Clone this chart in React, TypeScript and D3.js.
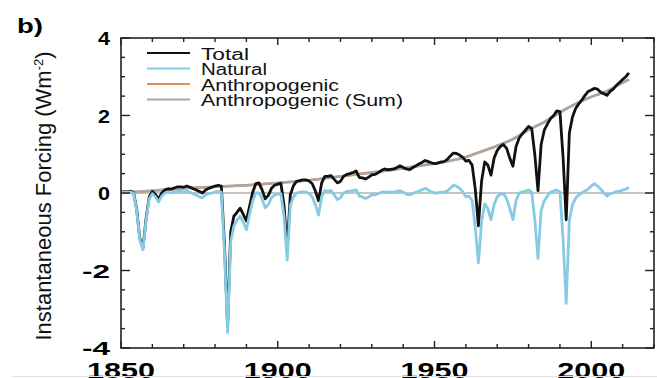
import React from "react";
import * as d3 from "d3";

// annual series, 1850..2012 (W m-2)
const firstYear = 1850;

const natural = [
  0.02, 0.03, 0.02, 0.03, 0.0, -0.45, -1.2, -1.47, -0.7, -0.15,
  -0.02, -0.1, -0.23, -0.08, 0.0, 0.02, 0.0, 0.03, 0.05, 0.05,
  0.03, 0.05, 0.02, -0.02, -0.05, -0.1, -0.12, -0.05, -0.02, 0.0,
  0.02, 0.04, 0.02, -1.5, -3.6, -1.25, -0.85, -0.7, -0.6, -0.75,
  -0.95, -0.55, -0.2, 0.0, 0.0, -0.15, -0.38, -0.3, -0.12, -0.05,
  -0.03, -0.02, -0.6, -1.73, -0.32, -0.1, 0.0, 0.02, 0.03, 0.03,
  -0.02, -0.1, -0.3, -0.57, -0.1, 0.06, 0.05, 0.06, -0.05, -0.17,
  -0.12, 0.0, 0.04, 0.04, 0.06, 0.08, -0.08, -0.1, -0.14, -0.1,
  -0.05, -0.05, -0.02, 0.02, 0.03, 0.02, 0.02, 0.02, 0.04, 0.06,
  0.02, -0.03, -0.05, -0.02, 0.02, 0.05, 0.08, 0.12, 0.08, 0.03,
  0.0, 0.0, 0.02, 0.02, 0.05, 0.12, 0.2, 0.18, 0.12, 0.03,
  -0.1, -0.08, -0.2, -0.9, -1.8, -0.75, -0.28, -0.4, -0.69, -0.3,
  -0.1, -0.03, -0.02, -0.15, -0.4, -0.69, -0.2, 0.0, 0.03, 0.05,
  0.08, 0.02, -0.7, -1.69, -0.45, -0.2, -0.08, 0.02, 0.05, 0.08,
  0.03, -1.2, -2.85, -0.7, -0.3, -0.13, -0.05, 0.0, 0.05, 0.1,
  0.18, 0.24, 0.18, 0.1, 0.0, -0.08, -0.02, 0.0, 0.04, 0.04,
  0.08, 0.1, 0.14,
];

const total = [
  0.02, 0.04, 0.03, 0.05, 0.02, -0.42, -1.17, -1.42, -0.66, -0.1,
  0.04, -0.04, -0.16, 0.0, 0.08, 0.11, 0.1, 0.13, 0.16, 0.16,
  0.15, 0.18, 0.15, 0.11, 0.08, 0.04, 0.0, 0.08, 0.12, 0.15,
  0.18, 0.2, 0.18, -1.33, -3.43, -1.0, -0.6, -0.5, -0.39, -0.55,
  -0.72, -0.34, 0.02, 0.24, 0.26, 0.08, -0.15, -0.06, 0.12, 0.2,
  0.23, 0.25, -0.33, -1.45, -0.05, 0.19, 0.3, 0.32, 0.34, 0.34,
  0.31, 0.24, 0.05, -0.2, 0.26, 0.43, 0.43, 0.45, 0.35, 0.26,
  0.3, 0.43, 0.48, 0.5, 0.53, 0.57, 0.4, 0.39, 0.36, 0.41,
  0.47, 0.48, 0.52, 0.58, 0.62, 0.6, 0.61, 0.62, 0.66, 0.7,
  0.66, 0.62, 0.6, 0.65, 0.7, 0.75, 0.79, 0.84, 0.81, 0.78,
  0.76, 0.77, 0.8, 0.81, 0.86, 0.95, 1.03, 1.02, 0.98, 0.92,
  0.82, 0.84, 0.72, 0.1, -0.85, 0.3, 0.8, 0.72, 0.46, 0.9,
  1.1, 1.2, 1.25, 1.15, 0.9, 0.69, 1.2, 1.42, 1.53, 1.62,
  1.72, 1.66, 0.98, 0.06, 1.25, 1.62, 1.78, 1.92, 2.0, 2.12,
  2.1, 0.92, -0.69, 1.55, 1.96, 2.18, 2.3, 2.4, 2.52, 2.62,
  2.66, 2.7, 2.68, 2.6, 2.56, 2.52, 2.62, 2.68, 2.78, 2.85,
  2.93, 3.0, 3.1,
];

// anthropogenic, read every 5 years
const anthroYears = [
  1850, 1855, 1860, 1865, 1870, 1875, 1880, 1885, 1890, 1895, 1900, 1905,
  1910, 1915, 1920, 1925, 1930, 1935, 1940, 1945, 1950, 1955, 1960, 1965,
  1970, 1975, 1980, 1985, 1990, 1995, 2000, 2005, 2010, 2012,
];
const anthro = [
  0.0, 0.03, 0.06, 0.09, 0.12, 0.14, 0.16, 0.18, 0.2, 0.23, 0.26, 0.29,
  0.33, 0.38, 0.43, 0.48, 0.53, 0.58, 0.64, 0.7, 0.76, 0.83, 0.93, 1.07,
  1.22, 1.39, 1.63, 1.83, 2.08, 2.3, 2.48, 2.63, 2.85, 2.93,
];

const xMajor = [1850, 1900, 1950, 2000];
const yMajor = [-4, -2, 0, 2, 4];

const legendItems = [
  { label: "Total", color: "#111", len: 48 },
  { label: "Natural", color: "#86cbe4", len: 66 },
  { label: "Anthropogenic", color: "#e08a5e", len: 138 },
  { label: "Anthropogenic (Sum)", color: "#aaa6a2", len: 202 },
];

const W = 657;
const H = 378;
const font = "'Liberation Sans', Arial, Helvetica, sans-serif";

export default function App() {
  const left = 121, right = 654, top = 38, bottom = 348;
  const x = d3.scaleLinear().domain([1850, 2020]).range([left, right]);
  const y = d3.scaleLinear().domain([-4, 4]).range([bottom, top]);

  const line = d3
    .line<number>()
    .x((_, i) => x(firstYear + i))
    .y((d) => y(d));

  const anthroLine = d3
    .line<number>()
    .x((_, i) => x(anthroYears[i]))
    .y((d) => y(d))
    .curve(d3.curveMonotoneX);

  const xMinor = d3.range(1850, 2021, 10);
  const yMinor = d3.range(-4, 4.01, 0.5);

  return (
    <svg
      width={W}
      height={H}
      style={{ position: "absolute", left: 0, top: 0, background: "#fff" }}
    >
      <rect x={0} y={0} width={W} height={H} fill="#fff" />

      <text x={17} y={33} fontFamily={font} fontWeight="bold" fontSize={20}
        textLength={26} lengthAdjust="spacingAndGlyphs">b)</text>

      {/* zero line */}
      <line x1={left} x2={right} y1={y(0)} y2={y(0)} stroke="#c4c4c4" strokeWidth={2} />

      <path d={anthroLine(anthro) || ""} fill="none" stroke="#e08a5e" strokeWidth={2.6} />
      <path d={anthroLine(anthro) || ""} fill="none" stroke="#aaa6a2" strokeWidth={2.4} />
      <path d={line(total) || ""} fill="none" stroke="#111" strokeWidth={2.8} strokeLinejoin="round" />
      <path d={line(natural) || ""} fill="none" stroke="#86cbe4" strokeWidth={2.8} strokeLinejoin="round" />

      {/* ticks */}
      {xMinor.map((t) => {
        const len = xMajor.includes(t) ? 7 : 4;
        return (
          <g key={"xt" + t} stroke="#222" strokeWidth={1.4}>
            <line x1={x(t)} x2={x(t)} y1={bottom} y2={bottom - len} />
            <line x1={x(t)} x2={x(t)} y1={top} y2={top + len} />
          </g>
        );
      })}
      {yMinor.map((t) => {
        const len = yMajor.includes(t) ? 9 : 4;
        return (
          <g key={"yt" + t} stroke="#222" strokeWidth={1.4}>
            <line x1={left} x2={left + len} y1={y(t)} y2={y(t)} />
            <line x1={right} x2={right - len} y1={y(t)} y2={y(t)} />
          </g>
        );
      })}
      <rect x={left} y={top} width={right - left} height={bottom - top}
        fill="none" stroke="#222" strokeWidth={1.6} />

      {/* tick labels */}
      {yMajor.map((t) => (
        <text key={"yl" + t} x={110} y={y(t) + 7} textAnchor="end"
          fontFamily={font} fontWeight="bold" fontSize={19}
          textLength={t < 0 ? 28 : 12} lengthAdjust="spacingAndGlyphs">
          {t}
        </text>
      ))}
      {xMajor.map((t) => (
        <text key={"xl" + t} x={x(t)} y={378} textAnchor="middle"
          fontFamily={font} fontWeight="bold" fontSize={22}
          textLength={68} lengthAdjust="spacingAndGlyphs">
          {t}
        </text>
      ))}

      {/* axis title */}
      <text transform="rotate(-90)" x={-196} y={51} textAnchor="middle"
        fontFamily={font} fontSize={22} fill="#111">
        Instantaneous Forcing (Wm<tspan dy={-8} fontSize={13}>-2</tspan>
        <tspan dy={8}>)</tspan>
      </text>

      {/* legend */}
      {legendItems.map((d, i) => (
        <g key={d.label}>
          <line x1={147} x2={190} y1={53 + i * 15.5} y2={53 + i * 15.5}
            stroke={d.color} strokeWidth={2.2} />
          <text x={201} y={59.5 + i * 15.5} fontFamily={font} fontSize={16}
            fill="#111" textLength={d.len} lengthAdjust="spacingAndGlyphs">
            {d.label}
          </text>
        </g>
      ))}

      <line x1={12} x2={W} y1={376.5} y2={376.5} stroke="#e2e2e2" strokeWidth={1} />
    </svg>
  );
}
